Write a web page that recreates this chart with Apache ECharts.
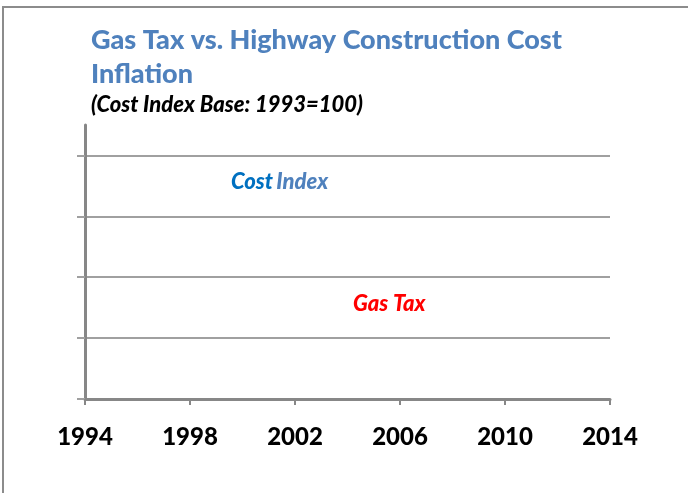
<!DOCTYPE html>
<html>
<head>
<meta charset="utf-8">
<script src="https://cdn.jsdelivr.net/npm/echarts@6/dist/echarts.min.js"></script>
<style>
  html, body { margin: 0; padding: 0; background: #fff; }
  #chart { width: 688px; height: 493px; }
</style>
</head>
<body>
<div id="chart"></div>
<script>
// Years along the horizontal axis (every fourth one is labelled)
const years = [1994, 1995, 1996, 1997, 1998, 1999, 2000, 2001, 2002, 2003, 2004,
               2005, 2006, 2007, 2008, 2009, 2010, 2011, 2012, 2013, 2014];
// Gridline positions on the (unlabelled) vertical axis
const yTicks = [0, 1, 2, 3, 4];
const yMax = 4.5;
// Series names shown as in-plot labels
const seriesNames = ['Cost Index', 'Gas Tax'];

const chart = echarts.init(document.getElementById('chart'), null, { renderer: 'canvas' });

const FONT = 'Lato';
const axisGray = '#878787';

chart.setOption({
  animation: false,
  backgroundColor: '#ffffff',
  grid: { left: 85, right: 78, top: 125, bottom: 94, containLabel: false },
  xAxis: {
    type: 'category',
    data: years.map(String),
    boundaryGap: false,
    axisLine: { show: true, lineStyle: { color: axisGray, width: 3 } },
    axisTick: { show: true, interval: 3, length: 6, lineStyle: { color: axisGray, width: 2 } },
    axisLabel: {
      interval: 3, margin: 26, color: '#000', fontFamily: FONT,
      fontWeight: 900, fontSize: 24
    },
    splitLine: { show: false }
  },
  yAxis: {
    type: 'value',
    min: 0, max: yMax, interval: 1,
    axisLine: { show: true, lineStyle: { color: axisGray, width: 3 } },
    axisTick: { show: true, length: 8, customValues: yTicks, lineStyle: { color: '#a0a0a0', width: 2 } },
    axisLabel: { show: false },
    splitLine: { show: true, showMinLine: false, showMaxLine: true, lineStyle: { color: '#a0a0a0', width: 2 } }
  },
  series: [],
  graphic: [
    {
      type: 'rect', silent: true, z: -1,
      shape: { x: 3, y: 7, width: 720, height: 520 },
      style: { fill: 'none', stroke: '#8c8c8c', lineWidth: 2 }
    },
    {
      type: 'text', left: 91, top: 23,
      style: {
        text: 'Gas Tax vs. Highway Construction Cost\nInflation',
        fill: '#4f81bd', font: '900 27px ' + FONT, lineHeight: 34
      }
    },
    {
      type: 'text', left: 91, top: 94,
      style: { text: '(Cost Index Base: 1993=100)', fill: '#000', font: 'italic 900 22px ' + FONT }
    },
    {
      type: 'text', left: 231, top: 171,
      style: {
        text: '{a|Cost} {b|Index}',
        rich: {
          a: { fill: '#0070c0', font: 'italic 900 22px ' + FONT },
          b: { fill: '#4f81bd', font: 'italic 900 22px ' + FONT }
        }
      }
    },
    {
      type: 'text', left: 353, top: 293,
      style: { text: seriesNames[1], fill: '#ff0000', font: 'italic 900 22px ' + FONT, letterSpacing: 1.6 }
    }
  ]
});
</script>
</body>
</html>
